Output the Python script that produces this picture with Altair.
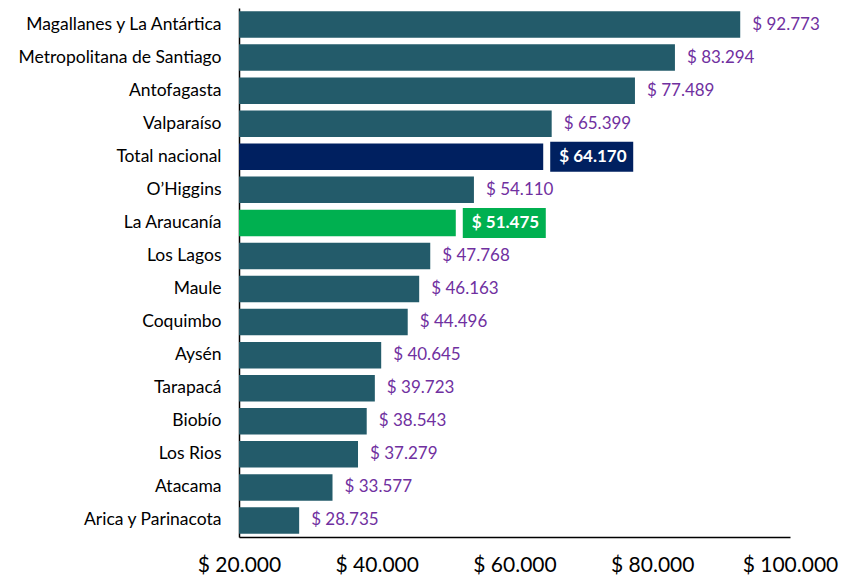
import altair as alt
import pandas as pd

regions = ["Magallanes y La Antártica", "Metropolitana de Santiago", "Antofagasta",
           "Valparaíso", "Total nacional", "O’Higgins", "La Araucanía", "Los Lagos",
           "Maule", "Coquimbo", "Aysén", "Tarapacá", "Biobío", "Los Rios", "Atacama",
           "Arica y Parinacota"]
values = [92773, 83294, 77489, 65399, 64170, 54110, 51475, 47768, 46163, 44496,
          40645, 39723, 38543, 37279, 33577, 28735]
kinds = ["region", "region", "region", "region", "total", "region", "araucania",
         "region", "region", "region", "region", "region", "region", "region",
         "region", "region"]
labels = ["$ " + f"{v:,}".replace(",", ".") for v in values]

df = pd.DataFrame({"region": regions, "value": values, "kind": kinds, "label": labels})

FONT = "Lato"
color_scale = alt.Scale(domain=["region", "total", "araucania"],
                        range=["#235B6A", "#002060", "#00B050"])

x = alt.X("value:Q", scale=alt.Scale(domain=[20000, 100000], nice=False, clamp=False),
          axis=alt.Axis(values=[20000, 40000, 60000, 80000, 100000],
                        labelExpr="'$ ' + replace(format(datum.value, ',.0f'), ',', '.')",
                        grid=False, ticks=False, domainColor="black", domainWidth=1.5,
                        labelFontSize=21, labelColor="black", labelFont=FONT,
                        labelPadding=17, title=None, labelFlush=False))
y = alt.Y("region:N", sort=regions, scale=alt.Scale(paddingInner=0.2, paddingOuter=0.1),
          axis=alt.Axis(ticks=False, domainColor="black", domainWidth=1.5, title=None,
                        labelFontSize=17.5, labelColor="black", labelFont=FONT,
                        labelPadding=18, labelLimit=300))

bars = alt.Chart(df).mark_bar().encode(
    x=x, x2=alt.datum(20000), y=y,
    color=alt.Color("kind:N", scale=color_scale, legend=None),
)

plain = alt.Chart(df).transform_filter("datum.kind == 'region'").mark_text(
    align="left", baseline="middle", dx=12, fontSize=17, font=FONT, color="#7030A0"
).encode(x="value:Q", y=alt.Y("region:N", sort=regions), text="label:N")

boxes = alt.Chart(df).transform_filter("datum.kind != 'region'").mark_bar(
    size=30, xOffset=7, x2Offset=90
).encode(x="value:Q", x2="value:Q", y=alt.Y("region:N", sort=regions),
         color=alt.Color("kind:N", scale=color_scale, legend=None))

box_text = alt.Chart(df).transform_filter("datum.kind != 'region'").mark_text(
    align="left", baseline="middle", dx=16, fontSize=17, font=FONT, fontWeight="bold",
    color="white"
).encode(x="value:Q", y=alt.Y("region:N", sort=regions), text="label:N")

chart = alt.layer(bars, plain, boxes, box_text).properties(
    width=551, height=529,
    background="white",
    autosize=alt.AutoSizeParams(type="none"),
    padding={"left": 239, "top": 8, "right": 52, "bottom": 42},
).configure_view(stroke="transparent", strokeWidth=0)

chart.save("out.html", embed_options={"renderer": "svg", "actions": False})
